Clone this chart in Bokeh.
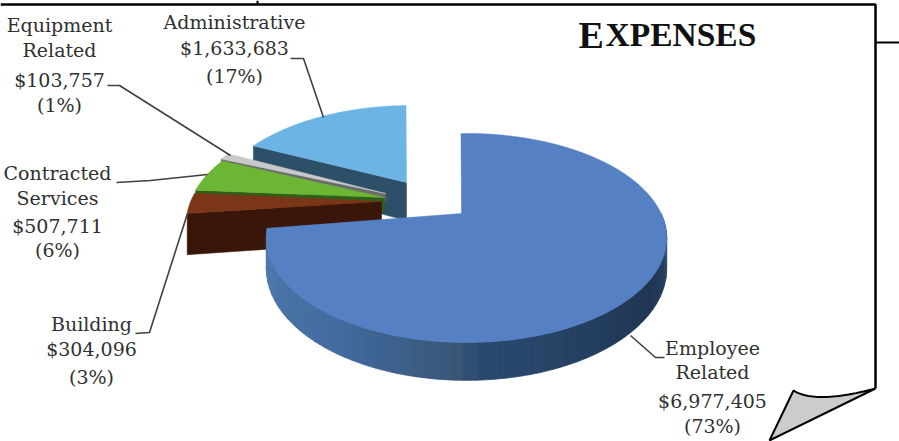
import numpy as np
from bokeh.plotting import figure
from bokeh.models import Range1d
from bokeh.core.properties import value
from bokeh.embed import file_html
from bokeh.resources import INLINE

# ---- data ----
categories = ["Employee Related", "Building", "Contracted Services", "Equipment Related", "Administrative"]
amounts = [6977405, 304096, 507711, 103757, 1633683]
percents = ["73%", "3%", "6%", "1%", "17%"]
title_text = "Expenses"

# ---- style / layout ----
top_colors = ["#5580c4", "#7a3616", "#6cb635", "#c9c9c9", "#6cb4e4"]
wall_colors = ["#3a5f93", "#3a1509", "#2f5f1b", "#6b6b6b", "#2e4f68"]
offsets = [(0, 0), (-80, -15), (-79, -18), (-80, -20), (-55, -28)]
apex_shift = [(-5, 0), (-5, 3), (-3, 2), (-1, 0), (-5, -3)]
depths = [29, 40, 14, 8, 38]
CX, CY, A, B, PERSP = 466.0, 213.0, 194.6, 98.8, 0.234
START = 92.0
side_stops = [(186, "#547ca8"), (205, "#4c76aa"), (240, "#416a9e"), (268, "#385678"),
              (272, "#2b4a70"), (300, "#243e60"), (325, "#1f3552"), (345, "#274466"), (354, "#34587f")]
FONT = "DejaVu Serif"
INK = "#303030"
LEADER = "#404040"

p = figure(width=899, height=441, output_backend="svg", toolbar_location=None,
           x_range=Range1d(0, 899), y_range=Range1d(441, 0), min_border=0,
           outline_line_color=None)
p.axis.visible = False
p.grid.visible = False


def proj(theta, dx=0.0, dy=0.0, h=0.0, r=1.0):
    t = np.radians(theta)
    X, Y = r * np.cos(t), r * np.sin(t)
    s = 1.0 / (1.0 + PERSP * Y)
    return CX + A * X * s + dx, CY - B * Y * s + h * s + dy


def hex2rgb(c):
    return np.array([int(c[i:i + 2], 16) for i in (1, 3, 5)], float)


def side_color(theta):
    th = [a for a, _ in side_stops]
    rgb = np.array([hex2rgb(c) for _, c in side_stops])
    v = [np.interp(theta, th, rgb[:, k]) for k in range(3)]
    return "#%02x%02x%02x" % tuple(int(round(x)) for x in v)


# slice boundaries (clockwise from the top) from the values
frac = np.array(amounts, float) / sum(amounts)
edges = START - np.concatenate([[0], np.cumsum(frac)]) * 360.0
slices = [(i, edges[i + 1], edges[i]) for i in range(len(amounts))]

# ---- page frame (behind the pie) ----
p.line([0, 875, 875], [4, 4, 388], line_color="black", line_width=2.5)
p.line([257, 257], [0, 4], line_color="black", line_width=2)
p.line([875, 899], [42, 42], line_color="black", line_width=2)
cu = np.linspace(0, 1, 30)
curl_x = list((1 - cu) ** 2 * 793 + 2 * cu * (1 - cu) * 815 + cu ** 2 * 875)
curl_y = list((1 - cu) ** 2 * 390 + 2 * cu * (1 - cu) * 404 + cu ** 2 * 388)
p.patch(curl_x + [769], curl_y + [440], fill_color="#cccccc", line_color="black", line_width=2)

# ---- pie, back to front ----
for i in [4, 3, 2, 1, 0]:
    lo, hi = slices[i][1], slices[i][2]
    dx, dy = offsets[i]
    sx, sy = apex_shift[i]
    h = depths[i]
    ts = np.linspace(hi, lo, max(6, int(abs(hi - lo) * 2)))
    ax, ay = proj(0, dx + sx, dy + sy, 0, r=0.0)
    # cut wall, on the slice's edge that faces the viewer
    if i != 0:
        ex, ey = proj(hi, dx, dy)
        ux, uy = proj(hi, dx, dy, h)
        ax2, ay2 = proj(0, dx + sx, dy + sy, h, r=0.0)
        p.patch([ex, ax, ax2, ux], [ey, ay, ay2, uy], fill_color=wall_colors[i],
                line_color=wall_colors[i], line_width=0.5)
    # outer side of the drum, front part only
    if i == 0:
        front = np.arange(lo % 360, 360.0, 3.0)
        front = front[front >= 180]
        for t0 in front:
            t1 = min(t0 + 3.0, 360.0)
            tt = np.linspace(t0, t1, 4)
            x0, y0 = proj(tt)
            x1, y1 = proj(tt, 0, 0, h)
            c = side_color(t0 + 1.5)
            p.patch(np.r_[x0, x1[::-1]], np.r_[y0, y1[::-1]], fill_color=c, line_color=c, line_width=0.8)
    # top face
    x, y = proj(ts, dx, dy)
    p.patch(np.r_[ax, x], np.r_[ay, y], fill_color=top_colors[i], line_color=top_colors[i], line_width=0.5)

# ---- leaders (anchor positions) ----
leaders = {
    "Employee Related": ([664, 655, 630], [357, 357, 335]),
    "Building": ([135, 149, 187], [333, 332, 213]),
    "Contracted Services": ([116, 150, 207], [182, 180, 174]),
    "Equipment Related": ([107, 119, 230], [85, 85, 155]),
    "Administrative": ([290, 303, 323], [58, 58, 117]),
}
for k in leaders:
    p.line(leaders[k][0], leaders[k][1], line_color=LEADER, line_width=1.6)

# ---- labels ----
label_pos = {
    "Employee Related": (712, [347, 371, 400, 425]),
    "Building": (91, [323, 348, 376]),
    "Contracted Services": (57, [172, 197, 225, 249]),
    "Equipment Related": (59, [24, 49, 79, 104]),
    "Administrative": (234, [21, 47, 75]),
}
for name, amt, pct in zip(categories, amounts, percents):
    cx, ys = label_pos[name]
    words = name.split(" ")
    lines = words + [f"${amt:,}", f"({pct})"]
    p.text([cx] * len(lines), ys, text=lines, text_font=value(FONT), text_font_size="19px",
           text_align="center", text_baseline="middle", text_color=INK)

# ---- title in small caps ----
p.text([578], [34], text=[title_text[0].upper()], text_font=value("Liberation Serif"), text_font_size="38px",
       text_font_style="bold", text_baseline="alphabetic", text_color="#111111")
p.text([605], [34], text=[title_text[1:].upper()], text_font=value("Liberation Serif"), text_font_size="33.5px",
       text_font_style="bold", text_baseline="alphabetic", text_color="#111111")

open("out.html", "w").write(file_html(p, INLINE))
